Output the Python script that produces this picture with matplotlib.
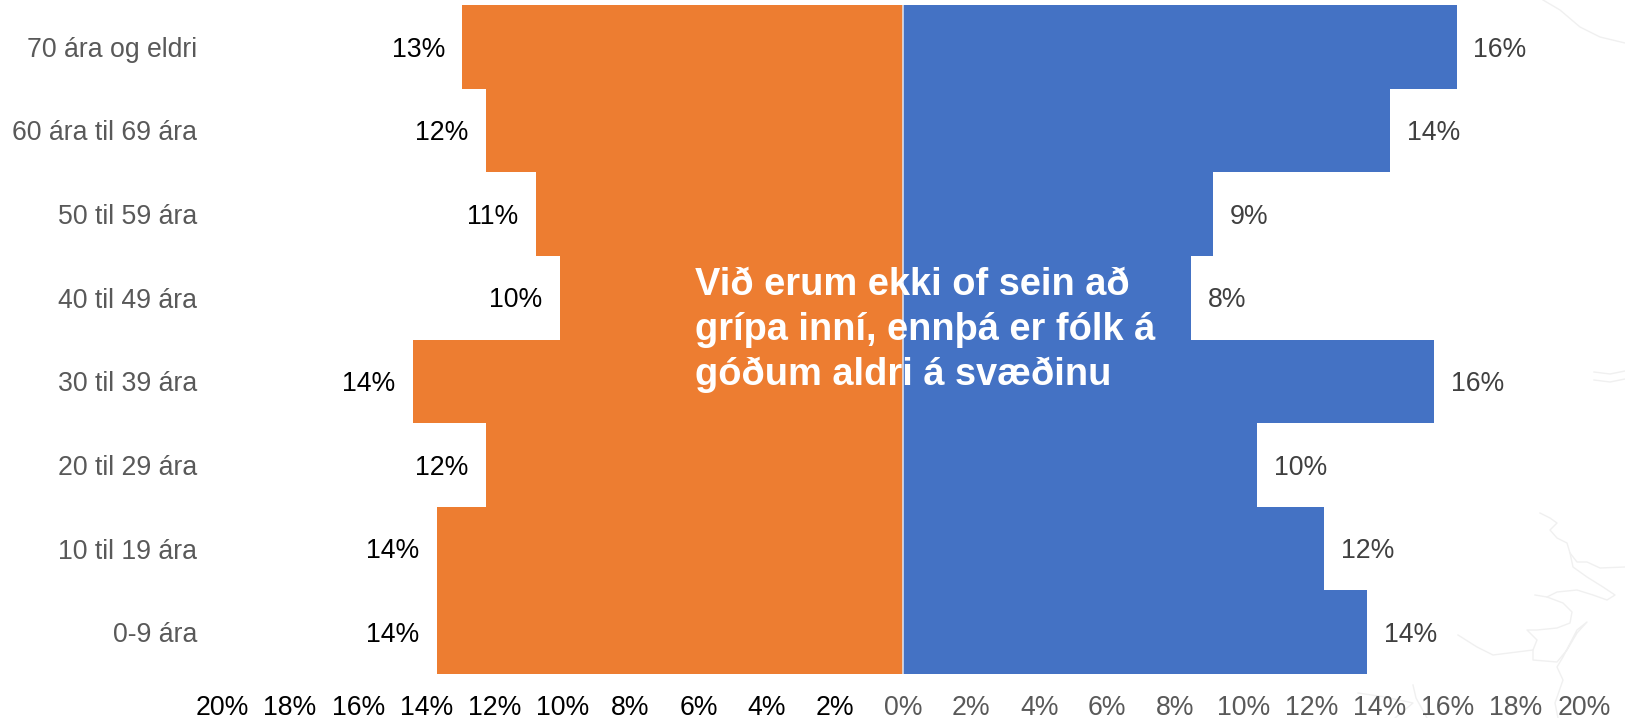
import matplotlib
matplotlib.use('Agg')
import matplotlib.pyplot as plt
from matplotlib.lines import Line2D
from matplotlib.transforms import Affine2D

plt.rcParams['font.family'] = ['Liberation Sans', 'DejaVu Sans']

# aldurshopar, neðst og upp
flokkar = ['0-9 ára', '10 til 19 ára', '20 til 29 ára', '30 til 39 ára',
           '40 til 49 ára', '50 til 59 ára', '60 ára til 69 ára', '70 ára og eldri']
konur = [13.7, 13.7, 12.24, 14.4, 10.08, 10.78, 12.24, 12.94]
karlar = [13.64, 12.36, 10.4, 15.6, 8.46, 9.1, 14.3, 16.26]
xticks = [-20, -18, -16, -14, -12, -10, -8, -6, -4, -2, 0, 2, 4, 6, 8, 10, 12, 14, 16, 18, 20]

W, H = 1625, 718
fig = plt.figure(figsize=(W / 100, H / 100), dpi=100)
ax = fig.add_axes([222 / W, 1 - 674 / H, 1362 / W, 669 / H])

# daufar línur í bakgrunni (kort), í pixlum
kort = [
    [(1543, 0), (1560, 10), (1580, 27), (1600, 37), (1625, 43)],
    [(1540, 513), (1550, 518), (1557, 523), (1550, 530), (1557, 538), (1567, 543),
     (1570, 553), (1577, 562), (1587, 562), (1600, 568), (1625, 567)],
    [(1570, 553), (1573, 567), (1587, 577), (1603, 587), (1615, 595), (1607, 600),
     (1593, 595), (1577, 590), (1557, 592), (1547, 597), (1535, 595)],
    [(1547, 597), (1563, 603), (1572, 612), (1570, 623), (1557, 628), (1537, 630),
     (1527, 630), (1537, 640), (1533, 650), (1493, 655), (1477, 647), (1458, 635)],
    [(1533, 650), (1533, 660), (1557, 662), (1567, 650), (1577, 633), (1587, 622),
     (1577, 630), (1563, 657), (1557, 667), (1563, 680), (1555, 703), (1558, 718)],
    [(1594, 372), (1610, 374), (1625, 371)],
    [(1594, 380), (1610, 382), (1625, 379)],
    [(1413, 685), (1416, 698), (1427, 718)],
    [(1358, 693), (1385, 697), (1413, 703), (1395, 718)],
]
pix = Affine2D().scale(1, -1).translate(0, H)
for p in kort:
    fig.add_artist(Line2D([a[0] for a in p], [a[1] for a in p], transform=pix,
                          color='#f0f0f0', lw=1.0, zorder=0))

y = range(len(flokkar))
ax.barh(y, [-v for v in konur], height=1.0, color='#ED7D31', zorder=2)
ax.barh(y, karlar, height=1.0, color='#4472C4', zorder=2)
ax.axvline(0, color='#dfe6f3', lw=1.1, zorder=3)

for i, v in enumerate(konur):
    ax.annotate(f'{v:.0f}%', (-v, i), xytext=(-12.5, -2), textcoords='offset points',
                ha='right', va='center', fontsize=19.2, color='black')
for i, v in enumerate(karlar):
    ax.annotate(f'{v:.0f}%', (v, i), xytext=(12, -2), textcoords='offset points',
                ha='left', va='center', fontsize=19.2, color='#404040')

ax.set_xlim(-20, 20)
ax.set_ylim(-0.5, 7.5)
ax.set_yticks(list(y))
ax.set_yticklabels(flokkar, fontsize=19.2, color='#595959')
ax.set_xticks(xticks)
ax.set_xticklabels([f'{abs(t)}%' for t in xticks], fontsize=19.2)
for t, lab in zip(xticks, ax.get_xticklabels()):
    lab.set_color('black' if t < 0 else '#595959')
ax.tick_params(axis='both', length=0)
ax.tick_params(axis='x', pad=15)
ax.tick_params(axis='y', pad=18)
for s in ax.spines.values():
    s.set_visible(False)
ax.patch.set_alpha(0)

fig.text(695 / W, 1 - 385 / H,
         'Við erum ekki of sein að\ngrípa inní, ennþá er fólk á\ngóðum aldri á svæðinu',
         color='white', fontsize=27.4, fontweight='bold', ha='left', va='baseline',
         linespacing=1.31, zorder=5)

fig.savefig('out.png', dpi=100)
